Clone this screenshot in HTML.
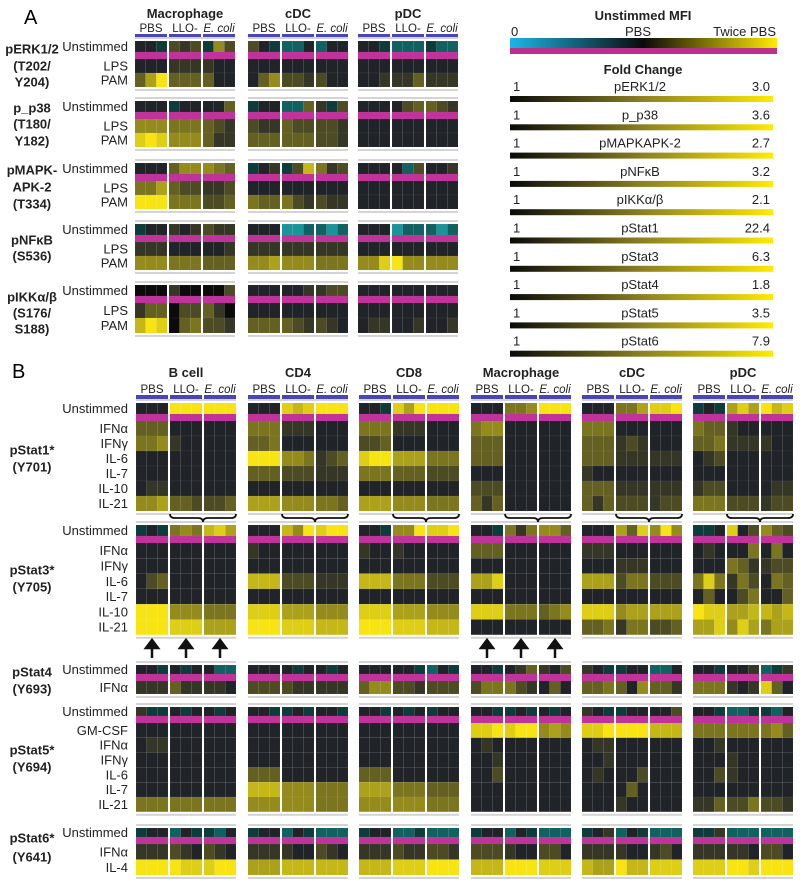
<!DOCTYPE html>
<html><head><meta charset="utf-8"><style>
html,body{margin:0;padding:0;background:#fff;}
svg{display:block;font-family:"Liberation Sans",sans-serif;}
</style></head><body>
<svg id="fig" width="800" height="884" viewBox="0 0 800 884" xmlns="http://www.w3.org/2000/svg">
<g id="static">
<text x="24" y="24" font-size="20">A</text>
<text x="12" y="378" font-size="20">B</text>
</g>
</svg>
<script>
// ---------- Data ----------
const cellTypesA = ["Macrophage","cDC","pDC"];
const cellTypesB = ["B cell","CD4","CD8","Macrophage","cDC","pDC"];
const groupLabels = ["PBS","LLO-","E. coli"];

const pERKRows = ["Unstimmed","LPS","PAM"];
const pERKVals = ["00a212a52 20abb0b00 00abbbabb","000111100 000000000 000000000","369333300 035221200 001113111"];
const p38Rows = ["Unstimmed","LPS","PAM"];
const p38Vals = ["000a00003 a00bb31a2 000023321","555444321 211322221 000000000","898555311 333333221 000000000"];
const pMAPKRows = ["Unstimmed","LPS","PAM"];
const pMAPKVals = ["000355543 a01a27412 0000b2001","446322112 000000000 000000000","999444223 433421211 000000000"];
const pNFkBRows = ["Unstimmed","LPS","PAM"];
const pNFkBVals = ["a00101211 000ccbbcb 000cbbbcb","111000001 111111111 000000000","555444333 556555444 558955555"];
const pIKKRows = ["Unstimmed","LPS","PAM"];
const pIKKVals = ["kkk1kkkk2 000001122 000000000","133k2231k 000000000 000000000","798k34221 333321210 011001001"];

const pStat1Rows = ["Unstimmed","IFNα","IFNγ","IL-6","IL-7","IL-10","IL-21"];
const pStat1Vals = [
"000999999 000878999 00a869999 000445999 000446889 a0a686978",
"333000000 444111000 444111000 455000000 444000000 433100000",
"445100000 334000000 223000000 333000000 333121000 334111100",
"000000000 999554123 899666444 333000000 333111111 012000000",
"000000000 333222111 444333222 000000000 100000000 000000000",
"011000000 000000000 000000000 222000000 333111111 122000011",
"556332223 666555443 666555444 313000000 313222122 444222122"];
const pStat3Rows = ["Unstimmed","IFNα","IFNγ","IL-6","IL-7","IL-10","IL-21"];
const pStat3Vals = [
"a0a454786 000759899 00a559889 00a414553 000638595 aa0802532",
"000000000 100000000 100100000 333000000 111000000 010004040",
"000000000 000000000 000000000 000000000 000111000 000431122",
"023000000 777222111 777444222 668000000 666244222 484142043",
"000000000 000000000 000000000 000000000 000000000 030024003",
"999555444 888666555 888666555 888444345 888566666 988667767",
"999888666 999888777 999888777 000000000 334144223 668586466"];
const pStat4Rows = ["Unstimmed","IFNα"];
const pStat4Vals = [
"00a0a00bb 0000a00a0 00000ab0a 00a013102 10aa00bb0 00a001ba1",
"111311110 222211111 355221222 244421030 334305331 444101830"];
const pStat5Rows = ["Unstimmed","GM-CSF","IFNα","IFNγ","IL-6","IL-7","IL-21"];
const pStat5Vals = [
"1aa0a00a0 00aa0a00a 00a0a0a00 00aa0a0a0 10aa00002 00abbaab0",
"000000000 000000000 000000000 889899565 889999777 444444453",
"011000000 000000000 000000000 010000000 011000000 001000000",
"000000000 000000000 000000000 001000000 001000000 000100000",
"000000000 333000000 333000000 002000000 010002000 002100000",
"000000000 777555444 666444333 000000000 000030000 000000000",
"444444444 555555444 555555444 000000000 000100000 113224221"];
const pStat6Rows = ["Unstimmed","IFNα","IL-4"];
const pStat6Vals = [
"a00b0aab0 a00b0abbb a00bbabbb a00b0abbb a01b0abbb aa1bbbbbb",
"111210210 111100210 111211221 222100220 111100120 111110220",
"999988899 666777777 777888999 777999888 766977888 888998999"];

const foldNames = ["pERK1/2","p_p38","pMAPKAPK-2","pNFκB","pIKKα/β","pStat1","pStat3","pStat4","pStat5","pStat6"];
const foldMax = ["3.0","3.6","2.7","3.2","2.1","22.4","6.3","1.8","3.5","7.9"];

// ---------- Rendering ----------
const NS = "http://www.w3.org/2000/svg";
const svg = document.getElementById('fig');
function mk(tag, attrs, parent){const e=document.createElementNS(NS,tag);for(const k in attrs)e.setAttribute(k,attrs[k]);(parent||svg).appendChild(e);return e;}
function txt(x,y,s,opts,parent){const t=mk('text',Object.assign({x:x,y:y,'font-size':13},opts||{}),parent);t.textContent=s;return t;}

const base=[0x20,0x23,0x28], yel=[0xf7,0xe4,0x12];
function color(c){
  if(c==='a')return '#0d3c3b'; if(c==='b')return '#106160'; if(c==='c')return '#1b9498'; if(c==='k')return '#0b0b0b';
  const t=parseInt(c,10)/9; const r=base.map((b,i)=>Math.round(b+(yel[i]-b)*Math.pow(t,1.05)));
  return 'rgb('+r.join(',')+')';
}
const blocksA=[135,248,358], blocksB=[136,248,359,471,582,693];
const gOff=[0,34,68], gW=32;

function section(name, rows, vals, blocks, y0, uH, rH, labelLines, labelYs){
  const g=mk('g',{});
  
  
  const total=uH+7+rH*(rows.length-1);
  blocks.forEach((bx,bi)=>{
    const fr1=mk('rect',{x:bx,y:y0-4,width:100,height:2,fill:'#d4d4d4'},g);
    
    
    const fr2=mk('rect',{x:bx,y:y0+total+2,width:100,height:2,fill:'#d4d4d4'},g);
    
    
    for(let gi=0;gi<3;gi++){
      const gx=bx+gOff[gi];
      rows.forEach((rn,ri)=>{
        const seg=vals[ri].split(' ')[bi];
        const y= ri===0? y0 : y0+uH+7+rH*(ri-1);
        const h= ri===0? uH : rH;
        for(let ci=0;ci<3;ci++){
          const code=seg[gi*3+ci];
          const r=mk('rect',{x:gx+ci*gW/3,y:y,width:gW/3,height:h,fill:color(code),stroke:'rgba(255,255,255,0.07)','stroke-width':0.6},g);
          
          
        }
      });
      const m=mk('rect',{x:gx,y:y0+uH,width:gW,height:7,fill:'#c0339a'},g);
      
      
    }
  });
  rows.forEach((rn,ri)=>{
    const yc= ri===0? y0+uH/2 : y0+uH+7+rH*(ri-1)+rH/2;
    const t=txt(128,yc+4.5,rn,{'text-anchor':'end',fill:'#222'},g);
    
    
  });
  labelLines.forEach((l,i)=>{
    const t=txt(32,labelYs[i]+4.5,l,{'text-anchor':'middle','font-weight':'bold',fill:'#222'},g);
    
    
  });
}

function headers(types, blocks, nameY, grpY, barY){
  types.forEach((tname,bi)=>{
    const bx=blocks[bi];
    const t=txt(bx+50,nameY,tname,{'text-anchor':'middle','font-weight':'bold',fill:'#222'});
    
    
    groupLabels.forEach((gl,gi)=>{
      const gx=bx+gOff[gi];
      const l=txt(gx+gW/2,grpY,gl,{'text-anchor':'middle','font-size':11.5,fill:'#222','font-style':gi===2?'italic':'normal'});
      
      
      const b=mk('rect',{x:gx,y:barY,width:gW,height:4,fill:'#4a45b5'});
      
      
    });
  });
}

// Panel A
headers(cellTypesA, blocksA, 18, 32, 34);
section('perk',pERKRows,pERKVals,blocksA,41,11,14,["pERK1/2","(T202/","Y204)"],[49,66,82]);
section('p-p38',p38Rows,p38Vals,blocksA,101,11,14,["p_p38","(T180/","Y182)"],[108,124,141]);
section('pmapkapk2',pMAPKRows,pMAPKVals,blocksA,163,11,14,["pMAPK-","APK-2","(T334)"],[170,187,204]);
section('pnfkb',pNFkBRows,pNFkBVals,blocksA,224,11,14,["pNFκB","(S536)"],[240,256]);
section('pikk',pIKKRows,pIKKVals,blocksA,285,11,15,["pIKKα/β","(S176/","S188)"],[297,313,329]);

// Panel B
headers(cellTypesB, blocksB, 377, 393, 395);
section('pstat1',pStat1Rows,pStat1Vals,blocksB,403,11,15,["pStat1*","(Y701)"],[450,467]);
section('pstat3',pStat3Rows,pStat3Vals,blocksB,525,11,15.3,["pStat3*","(Y705)"],[570,587]);
section('pstat4',pStat4Rows,pStat4Vals,blocksB,665,9,13,["pStat4","(Y693)"],[672,689]);
section('pstat5',pStat5Rows,pStat5Vals,blocksB,707,9,14.8,["pStat5*","(Y694)"],[750,767]);
section('pstat6',pStat6Rows,pStat6Vals,blocksB,828,9,15.5,["pStat6*","(Y641)"],[838,857]);

blocksB.forEach(bx=>{
  const x1=bx+gOff[1], x2=bx+gOff[2]+gW, mid=(x1+x2)/2, y=514;
  const p=mk('path',{d:`M${x1} ${y} q0 4 5 4 L${mid-5} ${y+4} q5 0 5 4 q0 -4 5 -4 L${x2-5} ${y+4} q5 0 5 -4`,fill:'none',stroke:'#111','stroke-width':1.8});
  
  
});
[blocksB[0],blocksB[3]].forEach(bx=>{
  gOff.forEach(o=>{
    const cx=bx+o+gW/2;
    const a=mk('path',{d:`M${cx} 658 L${cx} 646 M${cx-6} 648 L${cx} 640 L${cx+6} 648 Z`,fill:'#111',stroke:'#111','stroke-width':2.5});
    
    
  });
});

// Legend
const defs=mk('defs',{});
const lg=mk('linearGradient',{id:'mfi',x1:0,x2:1,y1:0,y2:0},defs);
mk('stop',{offset:'0','stop-color':'#1cb5e8'},lg);
mk('stop',{offset:'0.5','stop-color':'#0a0a0a'},lg);
mk('stop',{offset:'1','stop-color':'#ffeb00'},lg);
const lg2=mk('linearGradient',{id:'fold',x1:0,x2:1,y1:0,y2:0},defs);
mk('stop',{offset:'0','stop-color':'#0a0a0a'},lg2);
mk('stop',{offset:'0.5','stop-color':'#8a7f22'},lg2);
mk('stop',{offset:'1','stop-color':'#ffeb00'},lg2);
const leg=mk('g',{});


let t=txt(643,20,'Unstimmed MFI',{'text-anchor':'middle','font-weight':'bold',fill:'#222'},leg);


t=txt(511,36,'0',{fill:'#222'},leg);


t=txt(638,36,'PBS',{'text-anchor':'middle',fill:'#222'},leg);


t=txt(776,36,'Twice PBS',{'text-anchor':'end',fill:'#222'},leg);


let r=mk('rect',{x:510,y:38,width:267,height:10,fill:'url(#mfi)'},leg);


r=mk('rect',{x:510,y:48,width:267,height:6,fill:'#b8318f'},leg);


t=txt(643,74,'Fold Change',{'text-anchor':'middle','font-weight':'bold',fill:'#222'},leg);


foldNames.forEach((n,i)=>{
  const y=86+28.3*i;
  const a=txt(513,y+5,'1',{fill:'#222'},leg);
  
  
  const b=txt(640,y+5,n,{'text-anchor':'middle',fill:'#222'},leg);
  
  
  const c=txt(770,y+5,foldMax[i],{'text-anchor':'end',fill:'#222'},leg);
  
  
  const bar=mk('rect',{x:510,y:y+10,width:263,height:6,fill:'url(#fold)'},leg);
  
  
});
</script>
</body></html>
